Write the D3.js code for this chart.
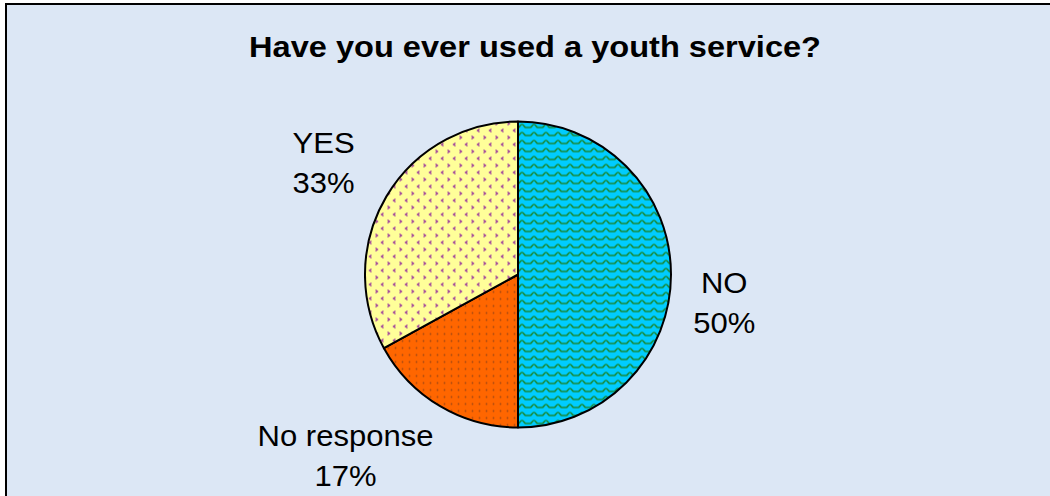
<!DOCTYPE html>
<html>
<head>
<meta charset="utf-8">
<script src="https://cdn.jsdelivr.net/npm/d3@7"></script>
<style>
  html, body { margin: 0; padding: 0; background: #ffffff; }
  svg { display: block; }
  text { font-family: "Liberation Sans", Arial, sans-serif; fill: #000; }
</style>
</head>
<body>
<svg id="chart" width="1050" height="496"></svg>
<script>
// ---- data ----
const title = "Have you ever used a youth service?";
const categories = ["NO", "No response", "YES"];
const values = [50, 17, 33];
const percentLabels = ["50%", "17%", "33%"];

// ---- layout ----
const W = 1050, H = 496;
const cx = 518, cy = 274.5, R = 153;

const svg = d3.select("#chart");
const defs = svg.append("defs");

// Patterns
const pNo = defs.append("pattern").attr("id", "pat-no")
  .attr("patternUnits", "userSpaceOnUse").attr("width", 12).attr("height", 8);
pNo.append("rect").attr("width", 12).attr("height", 8).attr("fill", "#00ccff");
pNo.append("path").attr("d", "M0,5 C2,5 2,2 4,2 C6,2 6,5 8,5 C10,5 10,5 12,5")
  .attr("fill", "none").attr("stroke", "#178a3a").attr("stroke-width", 1.6);

const pYes = defs.append("pattern").attr("id", "pat-yes")
  .attr("patternUnits", "userSpaceOnUse").attr("width", 12).attr("height", 14);
pYes.append("rect").attr("width", 12).attr("height", 14).attr("fill", "#ffff99");
pYes.append("path").attr("d", "M1.5,1.5 L3.5,3 L1.5,4.5")
  .attr("fill", "none").attr("stroke", "#9b3a9b").attr("stroke-width", 1.4);
pYes.append("path").attr("d", "M9.5,8.5 L7.5,10 L9.5,11.5")
  .attr("fill", "none").attr("stroke", "#9b3a9b").attr("stroke-width", 1.4);

const pNr = defs.append("pattern").attr("id", "pat-nr")
  .attr("patternUnits", "userSpaceOnUse").attr("width", 7).attr("height", 7);
pNr.append("rect").attr("width", 7).attr("height", 7).attr("fill", "#ff6600");
pNr.append("circle").attr("cx", 3.5).attr("cy", 3.5).attr("r", 0.9).attr("fill", "#a84a10");

const fills = d3.scaleOrdinal().domain(categories)
  .range(["url(#pat-no)", "url(#pat-nr)", "url(#pat-yes)"]);

// Background & frame
svg.append("rect").attr("x", 6).attr("y", 4).attr("width", W).attr("height", H)
  .attr("fill", "#dce7f5").attr("stroke", "#000").attr("stroke-width", 2);

// Title
svg.append("text").attr("x", 535).attr("y", 57)
  .attr("text-anchor", "middle").attr("font-size", 29.5).attr("font-weight", "bold")
  .attr("textLength", 572).attr("lengthAdjust", "spacingAndGlyphs")
  .text(title);

// Pie
const pie = d3.pie().sort(null).value(d => d.value);
const data = categories.map((c, i) => ({ cat: c, value: values[i], pct: percentLabels[i] }));
const arcs = pie(data);
const arc = d3.arc().innerRadius(0).outerRadius(R);
const labelArc = d3.arc().innerRadius(R * 1.4).outerRadius(R * 1.4);

const g = svg.append("g").attr("transform", `translate(${cx},${cy})`);
g.selectAll("path.slice").data(arcs).enter().append("path")
  .attr("class", "slice")
  .attr("d", arc)
  .attr("fill", d => fills(d.data.cat))
  .attr("stroke", "#000").attr("stroke-width", 2).attr("stroke-linejoin", "round");

// Labels (arc-based anchor with small nudges to mimic placement)
const nudge = { "NO": [-8, 18.5], "YES": [-10, -12.6], "No response": [-63.5, -12.8] };
const lab = g.selectAll("text.lbl").data(arcs).enter().append("text")
  .attr("class", "lbl")
  .attr("text-anchor", "middle").attr("font-size", 29)
  .attr("transform", d => {
    const [x, y] = labelArc.centroid(d);
    const n = nudge[d.data.cat];
    return `translate(${x + n[0]},${y + n[1]}) scale(1.07,1)`;
  });
lab.append("tspan").attr("x", 0).attr("y", 0).text(d => d.data.cat);
lab.append("tspan").attr("x", 0).attr("y", 40).text(d => d.data.pct);
</script>
</body>
</html>
